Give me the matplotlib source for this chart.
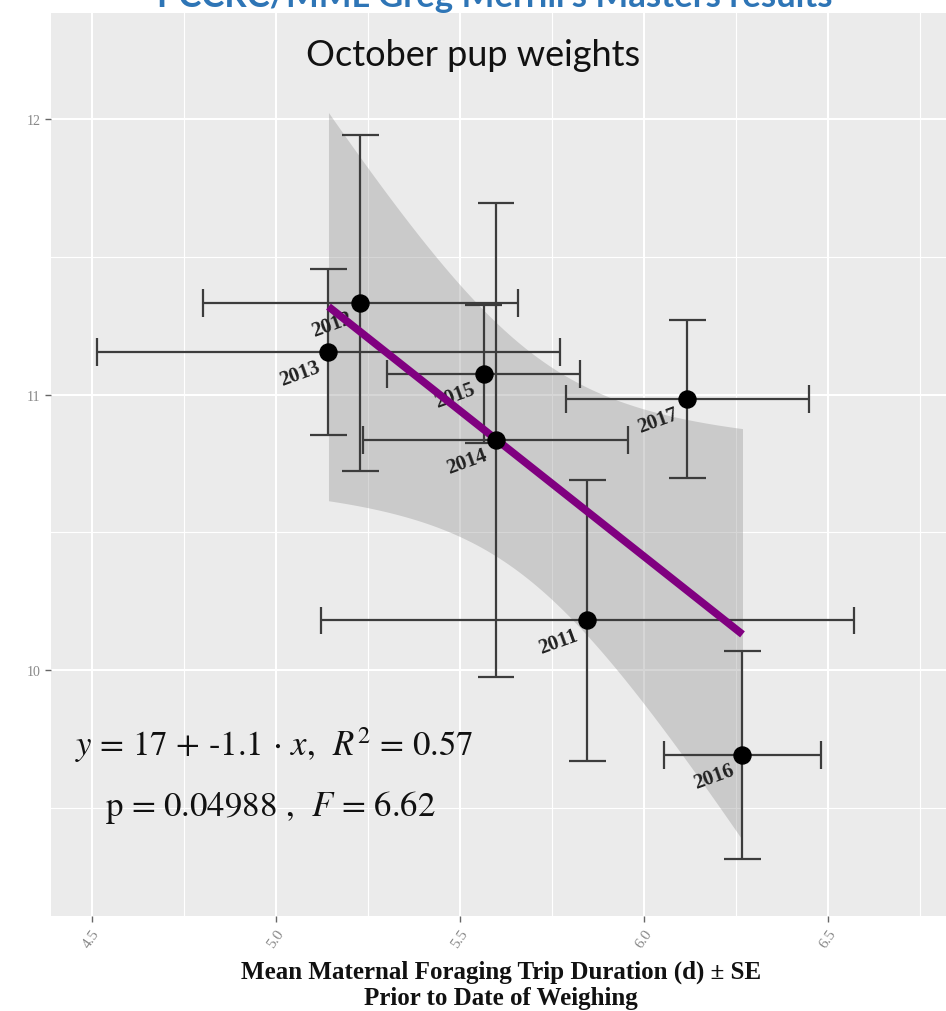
import numpy as np
import matplotlib
matplotlib.use("Agg")
import matplotlib.pyplot as plt

# ---- data ----
years = ["2012", "2013", "2015", "2014", "2017", "2011", "2016"]
trip_mean = [5.230, 5.143, 5.565, 5.598, 6.118, 5.846, 6.268]
trip_se = [0.428, 0.630, 0.262, 0.360, 0.330, 0.724, 0.212]
weight_mean = [11.332, 11.154, 11.074, 10.835, 10.984, 10.180, 9.691]
weight_se = [0.610, 0.300, 0.250, 0.860, 0.287, 0.510, 0.378]

x_ticks = [4.5, 5.0, 5.5, 6.0, 6.5]
x_tick_labels = ["4.5", "5.0", "5.5", "6.0", "6.5"]
y_ticks = [10, 11, 12]
y_tick_labels = ["10", "11", "12"]

title = "October pup weights"
banner = "PCCRC/MML Greg Merrill's Masters results"
xlab1 = "Mean Maternal Foraging Trip Duration (d) \u00b1 SE"
xlab2 = "Prior to Date of Weighing"
eq_line1 = r"$y$ = 17 + -1.1 $\cdot$ $x$,  $R^2$ = 0.57"
eq_line2 = r"p = 0.04988 ,  $F$ = 6.62"

W, H = 946, 1012
fig = plt.figure(figsize=(W / 100, H / 100), dpi=100)
fig.patch.set_facecolor("white")
plt.rcParams["mathtext.fontset"] = "stix"

ax = fig.add_axes([51 / W, 95 / H, 1 - 51 / W, (917 - 14) / H])
ax.set_facecolor("#EBEBEB")
ax.set_xlim(4.389, 6.821)
ax.set_ylim(9.107, 12.385)
for s in ax.spines.values():
    s.set_visible(False)

ax.set_xticks(x_ticks)
ax.set_xticks([4.75, 5.25, 5.75, 6.25, 6.75], minor=True)
ax.set_yticks(y_ticks)
ax.set_yticks([9.5, 10.5, 11.5], minor=True)
ax.grid(which="major", color="white", lw=1.5)
ax.grid(which="minor", color="white", lw=0.8)
ax.set_axisbelow(True)
ax.tick_params(which="major", length=4, width=1, color="#666666")
ax.tick_params(which="minor", length=0)
ax.set_xticklabels(x_tick_labels, rotation=55, ha="right", rotation_mode="anchor",
                   fontsize=11, color="#888888", family="Liberation Serif")
ax.set_yticklabels(y_tick_labels, fontsize=10, color="#888888", family="Liberation Serif")

# ---- regression (lm) with 95% confidence band ----
xa = np.array(trip_mean)
ya = np.array(weight_mean)
n = len(xa)
slope, intercept = np.polyfit(xa, ya, 1)
xs = np.linspace(xa.min(), xa.max(), 100)
yfit = intercept + slope * xs
resid = ya - (intercept + slope * xa)
s = np.sqrt(np.sum(resid ** 2) / (n - 2))
sxx = np.sum((xa - xa.mean()) ** 2)
se_fit = s * np.sqrt(1 / n + (xs - xa.mean()) ** 2 / sxx)
tval = 2.5706
ax.fill_between(xs, yfit - tval * se_fit, yfit + tval * se_fit,
                color="#999999", alpha=0.4, lw=0, zorder=1)

# ---- error bars ----
ecol = "#3c3c3c"
elw = 1.6
for xm, xe, ym, ye in zip(trip_mean, trip_se, weight_mean, weight_se):
    ax.vlines(xm, ym - ye, ym + ye, color=ecol, lw=elw, zorder=2)
    ax.hlines([ym - ye, ym + ye], xm - 0.05, xm + 0.05, color=ecol, lw=elw, zorder=2)
    ax.hlines(ym, xm - xe, xm + xe, color=ecol, lw=elw, zorder=2)
    ax.vlines([xm - xe, xm + xe], ym - 0.05, ym + 0.05, color=ecol, lw=elw, zorder=2)

# labels
for lab, xm, ym in zip(years, trip_mean, weight_mean):
    ax.annotate(lab, (xm, ym), xytext=(-29, -21), textcoords="offset pixels",
                ha="center", va="center", rotation=20, fontsize=15,
                fontweight="bold", family="Liberation Serif", color="#222222", zorder=3)

ax.plot(xs, yfit, color="#800080", lw=5.5, zorder=4, solid_capstyle="butt")
ax.scatter(trip_mean, weight_mean, s=150, color="black", zorder=5)

# ---- texts ----
fig.text(75 / W, 1 - 745 / H, eq_line1, fontsize=25, family="STIXGeneral",
         ha="left", va="center", color="#111111")
fig.text(105 / W, 1 - 808 / H, eq_line2, fontsize=25, family="STIXGeneral",
         ha="left", va="center", color="#111111")

fig.text(473 / W, 1 - 55 / H, title, fontsize=26, family="Lato",
         ha="center", va="center", color="#111111")
fig.text(495 / W, 1 - 7 / H, banner, fontsize=25, family="Lato", fontweight="bold",
         ha="center", va="baseline", color="#2E75B6")

fig.text(501 / W, 1 - 972 / H, xlab1, fontsize=18, family="Liberation Serif",
         fontweight="bold", ha="center", va="center", color="#111111")
fig.text(501 / W, 1 - 999 / H, xlab2, fontsize=18, family="Liberation Serif",
         fontweight="bold", ha="center", va="center", color="#111111")

fig.savefig("out.png", dpi=100)
